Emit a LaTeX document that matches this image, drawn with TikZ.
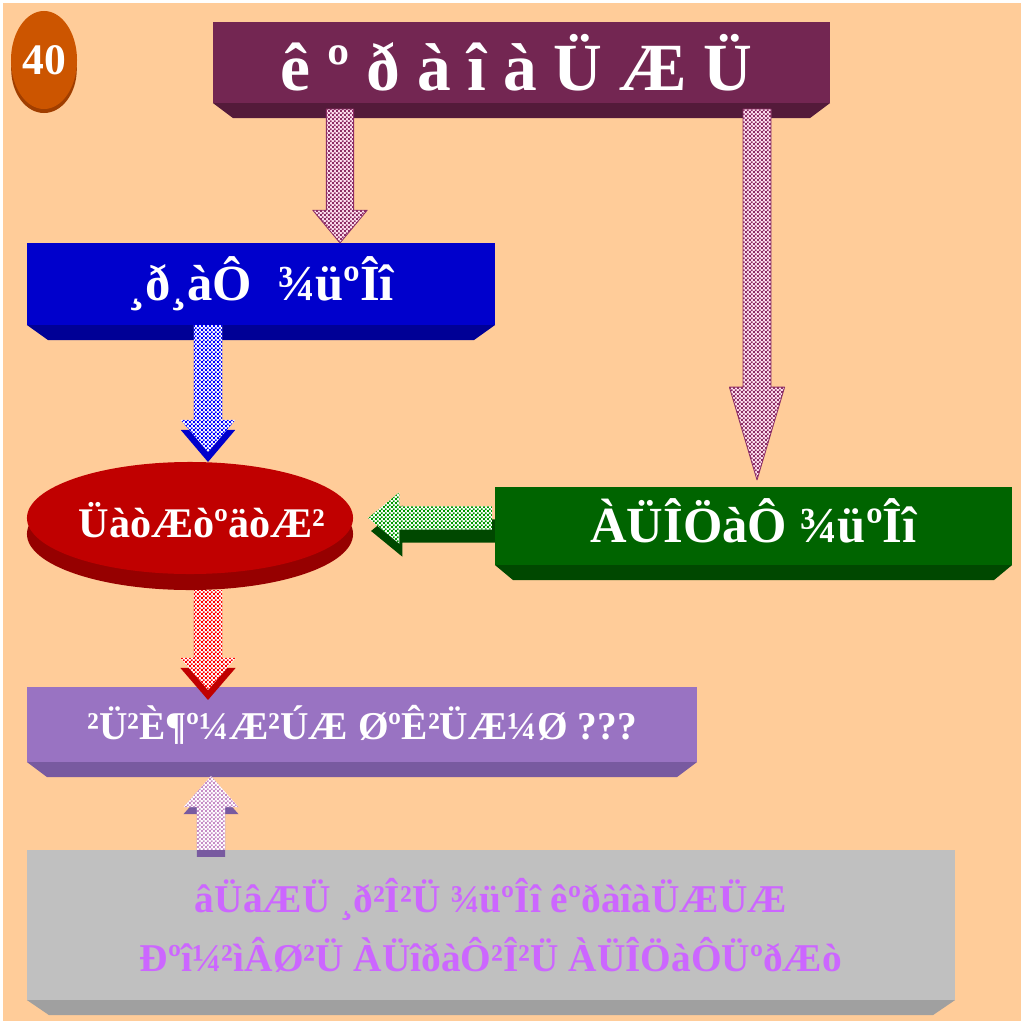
\documentclass[tikz,border=0pt]{standalone}
\usepackage{fontspec}
\setmainfont{Liberation Serif}
\usetikzlibrary{calc,patterns,shapes.geometric}
\definecolor{peach}{RGB}{255,204,153}
\definecolor{plum}{RGB}{115,38,82}
\definecolor{plumdark}{RGB}{84,26,58}
\definecolor{royal}{RGB}{0,0,204}
\definecolor{royaldark}{RGB}{0,0,150}
\definecolor{forest}{RGB}{0,100,0}
\definecolor{forestdark}{RGB}{0,72,0}
\definecolor{crimson}{RGB}{192,0,0}
\definecolor{crimsondark}{RGB}{150,0,0}
\definecolor{lavender}{RGB}{153,115,194}
\definecolor{lavenderdark}{RGB}{120,90,160}
\definecolor{silver}{RGB}{192,192,192}
\definecolor{silverdark}{RGB}{160,160,160}
\definecolor{violettext}{RGB}{204,102,255}
\definecolor{rust}{RGB}{204,85,0}
\definecolor{rustdark}{RGB}{160,62,0}
\definecolor{maroonline}{RGB}{140,45,100}
\definecolor{pinkfill}{RGB}{255,225,240}
\pgfdeclarepatternformonly{finechecks}{\pgfpointorigin}{\pgfqpoint{3pt}{3pt}}{\pgfqpoint{3pt}{3pt}}{%
	\pgfpathrectangle{\pgfpointorigin}{\pgfqpoint{1.5pt}{1.5pt}}%
	\pgfpathrectangle{\pgfqpoint{1.5pt}{1.5pt}}{\pgfqpoint{1.5pt}{1.5pt}}%
	\pgfusepath{fill}}
\newcommand\blockarrow[6][]{%
	\coordinate (ba) at ($(#3)!#6!(#2)$);
	\path[#1] ($(#2)!#4!90:(#3)$) -- ($(ba)!#4!90:(#3)$) -- ($(ba)!#5!90:(#3)$) -- (#3)
		-- ($(ba)!#5!-90:(#3)$) -- ($(ba)!#4!-90:(#3)$) -- ($(#2)!#4!-90:(#3)$) -- cycle;}
\newcommand\bevel[3]{\fill[#2] (#1.south west) -- (#1.south east) -- ++(-#3,15) -- ($(#1.south west)+(#3,15)$) -- cycle;}
\begin{document}
\begin{tikzpicture}[x=0.025cm, y=-0.025cm, line join=round,
	box/.style={rectangle, inner sep=0pt, outer sep=0pt, text=white, font=\bfseries},
	checks/.style={fill=white, postaction={pattern=finechecks, pattern color=#1}},
	pinkarrow/.style={fill=pinkfill, draw=maroonline, line width=0.6pt, postaction={pattern=finechecks, pattern color=maroonline}}]
	\useasboundingbox (0,0) rectangle (1024,1024);
	\fill[white] (0,0) rectangle (1024,1024);
	\fill[peach] (3,3) rectangle (1021,1021);
	\fill[rustdark] (44,69) ellipse [x radius=0.82cm, y radius=1.1cm];
	\node[ellipse, fill=rust, text=white, inner sep=0pt, minimum width=1.65cm, minimum height=2.45cm, font=\fontsize{31}{34}\selectfont\bfseries] (badge) at (44,60) {40};
	\node[box, fill=plum, minimum width=15.425cm, minimum height=2.025cm] (title) at (521.5,62.5) {};
	\node[text=white, font=\fontsize{48}{52}\selectfont\bfseries] (titletext) at ($(title)+(-5,0)$) {ê º ð à î à Ü Æ Ü};
	\bevel{title}{plumdark}{20}
	\node[box, fill=royal, minimum width=11.7cm, minimum height=2.05cm, font=\fontsize{36}{40}\selectfont\bfseries] (blue) at (261,284) {¸ð¸àÔ~ ¾üºÎî};
	\bevel{blue}{royaldark}{21}
	\node[box, fill=forest, minimum width=12.925cm, minimum height=1.95cm] (green) at (753.5,526) {};
	\node[text=white, font=\fontsize{36}{40}\selectfont\bfseries] (greentext) at ($(green)+(0,-5)$) {ÀÜÎÖàÔ ¾üºÎî};
	\bevel{green}{forestdark}{18}
	\fill[crimsondark] (190,534) ellipse [x radius=4.075cm, y radius=1.4cm];
	\node[ellipse, fill=crimson, inner sep=0pt, outer sep=0pt, minimum width=8.15cm, minimum height=2.8cm] (oval) at (190,518) {};
	\node[text=white, font=\fontsize{30}{34}\selectfont\bfseries] (ovaltext) at ($(oval)+(12,2)$) {ÜàòÆòºäòÆ²};
	\node[box, fill=lavender, minimum width=16.75cm, minimum height=1.875cm, font=\fontsize{28}{32}\selectfont\bfseries] (purple) at (362,724.5) {²Ü²È¶º¼Æ²ÚÆ ØºÊ²ÜÆ¼Ø ???};
	\bevel{purple}{lavenderdark}{20}
	\node[box, fill=silver, text=violettext, align=center, minimum width=23.2cm, minimum height=3.75cm, font=\fontsize{28}{42}\selectfont\bfseries] (gray) at (491,925) {âÜâÆÜ ¸ð²Î²Ü ¾üºÎî êºðàîàÜÆÜÆ\\Ðºî¼²ìÂØ²Ü ÀÜîðàÔ²Î²Ü ÀÜÎÖàÔÜºðÆò};
	\bevel{gray}{silverdark}{22}
	\coordinate (a1) at ($(340,0 |- title.south)+(0,6)$);
	\coordinate (b1) at (340,0 |- blue.north);
	\coordinate (a2) at ($(757,0 |- title.south)+(0,6)$);
	\coordinate (b2) at ($(757,0 |- green.north)+(0,-7)$);
	\coordinate (a3) at (208,0 |- blue.south);
	\coordinate (b3) at ($(208,0 |- oval.north)+(0,-10)$);
	\coordinate (a4) at ($(green.west)+(-3,-8)$);
	\coordinate (b4) at ($(oval.east)+(15,0)$);
	\coordinate (a5) at ($(208,0 |- oval.south)+(0,16)$);
	\coordinate (b5) at ($(208,0 |- purple.north)+(0,3)$);
	\coordinate (a6) at (211,0 |- gray.north);
	\coordinate (b6) at ($(211,0 |- purple.south)+(0,14)$);
	\blockarrow[pinkarrow]{a1}{b1}{0.34cm}{0.68cm}{0.82cm}
	\blockarrow[pinkarrow]{a2}{b2}{0.35cm}{0.69cm}{2.32cm}
	\blockarrow[fill=royal, transform canvas={shift={(0,10)}}]{a3}{b3}{0.35cm}{0.68cm}{0.8cm}
	\blockarrow[checks=blue]{a3}{b3}{0.35cm}{0.68cm}{0.8cm}
	\blockarrow[fill=forestdark, transform canvas={shift={(3,13)}}]{a4}{b4}{0.29cm}{0.64cm}{0.78cm}
	\blockarrow[checks=green!60!black]{a4}{b4}{0.29cm}{0.64cm}{0.78cm}
	\blockarrow[fill=crimson, transform canvas={shift={(0,10)}}]{a5}{b5}{0.35cm}{0.69cm}{0.8cm}
	\blockarrow[checks=red]{a5}{b5}{0.35cm}{0.69cm}{0.8cm}
	\blockarrow[fill=lavenderdark, transform canvas={shift={(0,7)}}]{a6}{b6}{0.35cm}{0.69cm}{0.78cm}
	\blockarrow[checks=violet!45!white]{a6}{b6}{0.35cm}{0.69cm}{0.78cm}
\end{tikzpicture}
\end{document}
